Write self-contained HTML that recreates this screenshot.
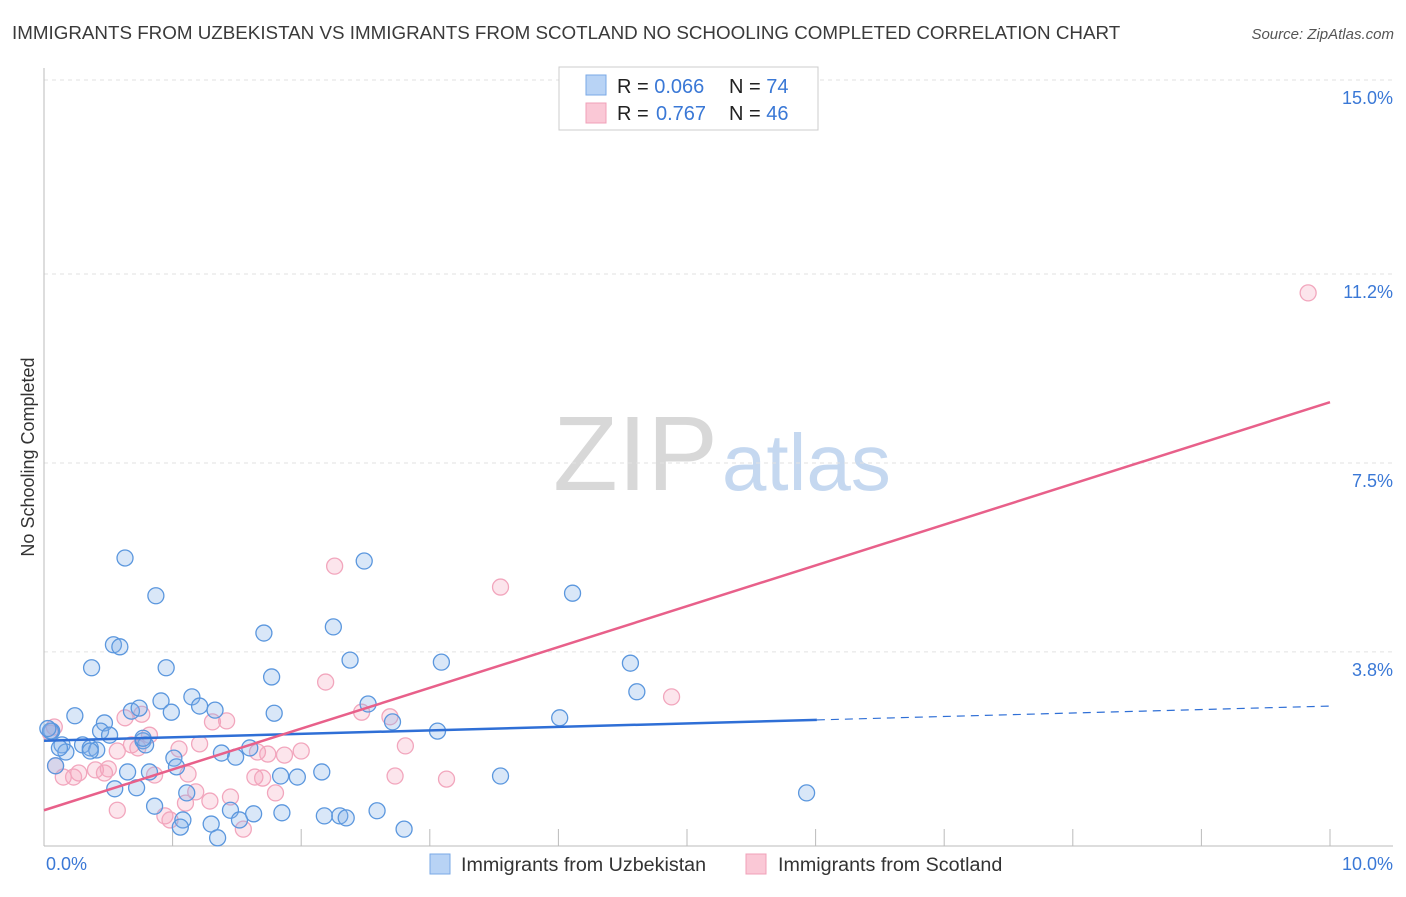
<!DOCTYPE html>
<html><head><meta charset="utf-8"><style>
body{margin:0;background:#fff;font-family:"Liberation Sans",sans-serif;}
svg text{font-family:"Liberation Sans",sans-serif;}
</style></head><body>
<svg id="chart" width="1406" height="892" xmlns="http://www.w3.org/2000/svg">
<text x="12" y="39" font-size="18.8" fill="#3a3a3a">IMMIGRANTS FROM UZBEKISTAN VS IMMIGRANTS FROM SCOTLAND NO SCHOOLING COMPLETED CORRELATION CHART</text>
<text x="1394" y="39" font-size="15" fill="#555" font-style="italic" text-anchor="end">Source: ZipAtlas.com</text>
<text x="553" y="490" font-size="106" font-family="Liberation Serif" fill="#d8d8d8">ZIP<tspan dx="4" fill="#c5d8f0" font-family="Liberation Sans" font-size="80">atlas</tspan></text>
<g id="grid"></g>
<g id="axes"></g>
<g id="points"></g>
<g id="trends"></g>
<text transform="translate(34,457) rotate(-90)" font-size="18" fill="#333" text-anchor="middle">No Schooling Completed</text>
<g>
<rect x="559" y="67" width="259" height="63" fill="#fff" stroke="#ccc"/>
<rect x="586" y="75" width="20" height="20" fill="#b8d3f5" stroke="#7aa8e6"/>
<rect x="586" y="103" width="20" height="20" fill="#fac8d6" stroke="#f0a0b8"/>
<text x="617" y="93" font-size="20" fill="#222">R = <tspan fill="#3a78d6">0.066</tspan><tspan x="729">N = </tspan><tspan fill="#3a78d6">74</tspan></text>
<text x="617" y="120" font-size="20" fill="#222">R = <tspan x="656" fill="#3a78d6">0.767</tspan><tspan x="729">N = </tspan><tspan fill="#3a78d6">46</tspan></text>
</g>
<g>
<rect x="430" y="854" width="20" height="20" fill="#b8d3f5" stroke="#7aa8e6"/>
<text x="461" y="871" font-size="19.7" fill="#333">Immigrants from Uzbekistan</text>
<rect x="746" y="854" width="20" height="20" fill="#fac8d6" stroke="#f0a0b8"/>
<text x="778" y="871" font-size="19.7" fill="#333">Immigrants from Scotland</text>
</g>
</svg>
<script>
const yTicks=[15.0,11.2,7.5,3.8];
const yTickLabels=["15.0%","11.2%","7.5%","3.8%"];
const xTickValues=[1,2,3,4,5,6,7,8,9,10];
const xEndLabels=["0.0%","10.0%"];
const uzX=[0.63,0.87,0.54,0.59,0.37,0.95,1.71,2.25,2.49,2.38,3.09,4.11,4.56,4.61,1.77,0.91,1.15,1.21,1.33,0.99,0.24,0.47,0.68,0.74,1.79,2.52,2.71,3.06,4.01,0.44,0.51,0.06,0.14,0.30,0.36,0.41,0.77,0.79,0.17,0.09,1.01,1.03,1.38,1.49,1.60,0.65,0.82,1.84,1.97,2.16,3.55,0.55,0.72,1.11,0.86,1.08,1.30,1.45,1.52,1.63,1.85,2.18,2.30,2.35,2.59,2.80,1.06,1.35,5.93,0.36,0.12,0.77,0.05,0.03];
const uzY=[5.64,4.90,3.94,3.90,3.49,3.49,4.17,4.29,5.58,3.64,3.60,4.95,3.58,3.02,3.31,2.84,2.92,2.74,2.66,2.62,2.55,2.41,2.64,2.70,2.60,2.78,2.43,2.25,2.51,2.25,2.17,2.25,1.98,1.98,1.92,1.88,2.06,1.98,1.84,1.57,1.72,1.55,1.82,1.74,1.92,1.45,1.45,1.37,1.35,1.45,1.37,1.12,1.14,1.04,0.78,0.51,0.43,0.70,0.51,0.63,0.65,0.59,0.59,0.55,0.69,0.33,0.37,0.16,1.04,1.86,1.92,2.11,2.25,2.30];
const scX=[9.83,2.26,3.55,2.19,4.88,2.69,2.47,0.63,0.76,0.82,1.05,1.31,1.42,1.21,0.68,0.57,0.73,1.66,1.74,1.87,2.00,2.81,0.08,0.05,0.09,0.15,0.27,0.40,0.47,0.50,0.23,0.86,1.12,1.64,1.70,2.73,3.13,1.10,1.18,1.29,1.45,1.80,0.57,0.94,0.98,1.55];
const scY=[10.83,5.48,5.07,3.21,2.92,2.53,2.62,2.51,2.58,2.17,1.90,2.43,2.45,2.00,1.98,1.86,1.92,1.84,1.80,1.78,1.86,1.96,2.33,2.21,1.57,1.35,1.43,1.49,1.43,1.51,1.35,1.39,1.41,1.35,1.33,1.37,1.31,0.84,1.06,0.88,0.96,1.04,0.70,0.59,0.51,0.33];
const uzTrend=[2.06,2.74];
const scTrend=[0.70,8.69];
const uzSolidEnd=6.01;
const NS="http://www.w3.org/2000/svg";
const X0=44,X1=1330,Y0=846,YS=51.07;
function sx(v){return X0+(X1-X0)*v/10;}
function sy(v){return Y0-v*YS;}
function mk(tag,attrs,parent){const e=document.createElementNS(NS,tag);for(const k in attrs)e.setAttribute(k,attrs[k]);parent.appendChild(e);return e;}
const grid=document.getElementById('grid'),axes=document.getElementById('axes'),pts=document.getElementById('points'),tr=document.getElementById('trends');
yTicks.forEach((t,i)=>{
 const l=mk('line',{x1:X0,x2:1393,y1:sy(t),y2:sy(t),stroke:'#e2e2e2','stroke-dasharray':'4,4'},grid);
 
 
 const tx=mk('text',{x:1393,y:sy(t)+24,'font-size':18,fill:'#3a78d6','text-anchor':'end'},grid);
 tx.textContent=yTickLabels[i];
 
 
});
const ya=mk('line',{x1:X0,x2:X0,y1:68,y2:Y0,stroke:'#bbb'},axes);


const xa=mk('line',{x1:X0,x2:1393,y1:Y0,y2:Y0,stroke:'#bbb'},axes);


xTickValues.forEach(v=>{
 const t=mk('line',{x1:sx(v),x2:sx(v),y1:829,y2:Y0,stroke:'#bbb'},axes);
 
 
});
const xl0=mk('text',{x:46,y:870,'font-size':18,fill:'#3a78d6'},axes);xl0.textContent=xEndLabels[0];


const xl1=mk('text',{x:1393,y:870,'font-size':18,fill:'#3a78d6','text-anchor':'end'},axes);xl1.textContent=xEndLabels[1];


scX.forEach((x,i)=>{
 const c=mk('circle',{cx:sx(x),cy:sy(scY[i]),r:8,fill:'rgba(245,160,185,0.28)',stroke:'#f2a6bd','stroke-width':1.3},pts);
 
 
});
uzX.forEach((x,i)=>{
 const c=mk('circle',{cx:sx(x),cy:sy(uzY[i]),r:8,fill:'rgba(130,175,232,0.3)',stroke:'#5b97de','stroke-width':1.3},pts);
 
 
});
function lineAt(tr2,x){return tr2[0]+(tr2[1]-tr2[0])*x/10;}
const l1=mk('line',{x1:sx(0),y1:sy(uzTrend[0]),x2:sx(uzSolidEnd),y2:sy(lineAt(uzTrend,uzSolidEnd)),stroke:'#2f6fd6','stroke-width':2.5},tr);


const l2=mk('line',{x1:sx(uzSolidEnd),y1:sy(lineAt(uzTrend,uzSolidEnd)),x2:sx(10),y2:sy(uzTrend[1]),stroke:'#2f6fd6','stroke-width':1.2,'stroke-dasharray':'8,6'},tr);


const l3=mk('line',{x1:sx(0),y1:sy(scTrend[0]),x2:sx(10),y2:sy(scTrend[1]),stroke:'#e8608a','stroke-width':2.5},tr);


</script>
</body></html>
